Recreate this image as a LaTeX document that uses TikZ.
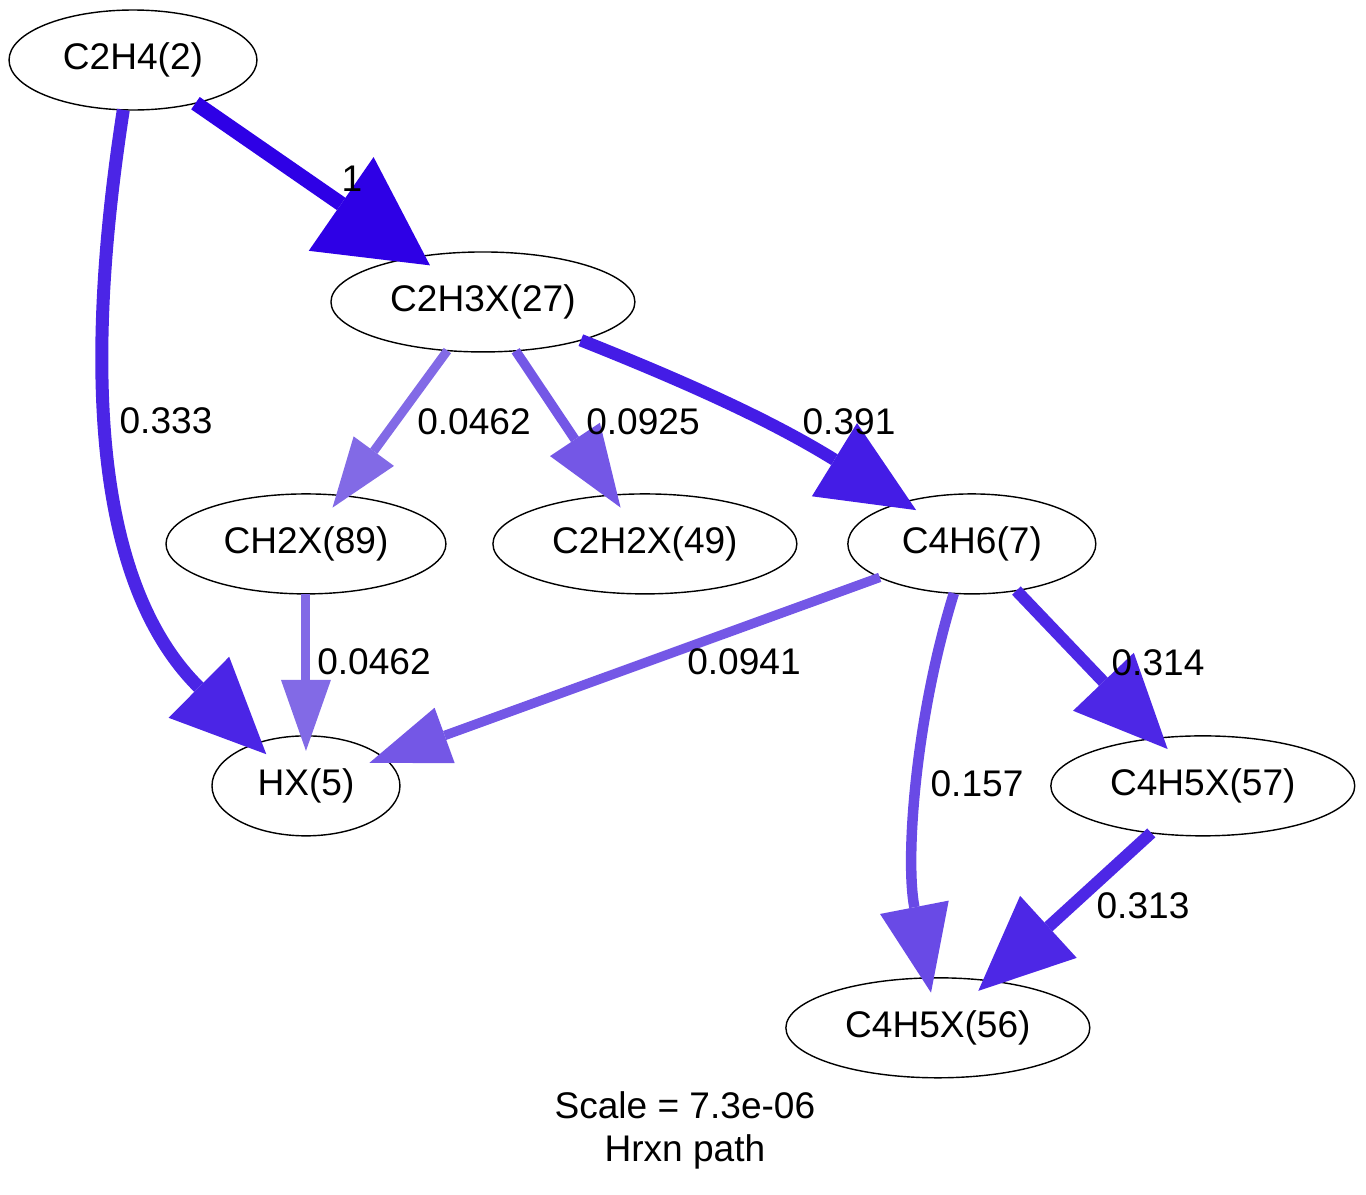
\documentclass[tikz,border=0pt]{standalone}
\usepackage{fontspec}
\setmainfont{Liberation Sans}
\usepackage{tikz}
\usetikzlibrary{shapes.geometric, arrows.meta, positioning}
\usepackage{xcolor}
\definecolor{fluxFull}{RGB}{46,0,230}
\definecolor{fluxDeep}{RGB}{68,28,230}
\definecolor{fluxStrong}{RGB}{75,37,230}
\definecolor{fluxMid}{RGB}{77,39,230}
\definecolor{fluxSoft}{RGB}{105,74,230}
\definecolor{fluxLight}{RGB}{116,87,230}
\definecolor{fluxPale}{RGB}{130,106,230}
\newcommand{\rxnfont}{\fontsize{21.1pt}{24.5pt}\selectfont}

\begin{document}
\begin{tikzpicture}[
    x=0.02cm, y=-0.02cm,
    species/.style={ellipse, draw, line width=0.8pt, inner sep=0pt, outer sep=0pt, minimum height=2cm, font=\rxnfont},
    flux/.style n args={4}{color=#1, line width=#2, shorten >=-0.3cm, -{Triangle[length=#3, width=#4, line width=0pt]}},
    lbl/.style={inner sep=0pt, font=\rxnfont}
]
\useasboundingbox (0,0) rectangle (1366,1194);

\node[species, minimum width=4.96cm] (c2h4) at (133,60) {C2H4(2)};
\node[species, minimum width=6.08cm, below=2.84cm of c2h4, xshift=7cm] (c2h3x) {C2H3X(27)};
\node[species, minimum width=5.6cm, below=2.84cm of c2h3x, xshift=-3.54cm] (ch2x) {CH2X(89)};
\node[species, minimum width=6.08cm, right=0.94cm of ch2x] (c2h2x) {C2H2X(49)};
\node[species, minimum width=4.96cm, right=1.02cm of c2h2x] (c4h6) {C4H6(7)};
\node[species, minimum width=3.76cm, below=2.84cm of ch2x] (hx) {HX(5)};
\node[species, minimum width=6.08cm, below=2.84cm of c4h6, xshift=4.62cm] (c4h5x57) {C4H5X(57)};
\node[species, minimum width=6.08cm, below=2.84cm of c4h5x57, xshift=-5.3cm] (c4h5x56) {C4H5X(56)};
\node[lbl, align=center, below=0.26cm of c4h5x56, xshift=-5.06cm] (caption) {Scale = 7.3e-06\\Hrxn path};

\draw[flux={fluxFull}{0.30cm}{2.16cm}{2.28cm}] (c2h4) -- (c2h3x);
\draw[flux={fluxStrong}{0.26cm}{1.9cm}{1.72cm}] (c2h4.259) .. controls +(-48,310) and +(-145,-144) .. (hx.140);
\draw[flux={fluxPale}{0.18cm}{1.4cm}{1cm}] (c2h3x) -- (ch2x);
\draw[flux={fluxLight}{0.19cm}{1.64cm}{1.2cm}] (c2h3x) -- (c2h2x);
\draw[flux={fluxDeep}{0.25cm}{1.92cm}{1.72cm}] (c2h3x) to[bend left=5] (c4h6);
\draw[flux={fluxPale}{0.18cm}{1.42cm}{1cm}] (ch2x) -- (hx);
\draw[flux={fluxLight}{0.19cm}{1.6cm}{1.18cm}] (c4h6) -- (hx);
\draw[flux={fluxSoft}{0.21cm}{1.74cm}{1.4cm}] (c4h6.250) .. controls +(-39,126) and +(-23,-118) .. (c4h5x56.101);
\draw[flux={fluxMid}{0.24cm}{1.86cm}{1.68cm}] (c4h6) -- (c4h5x57);
\draw[flux={fluxMid}{0.24cm}{1.9cm}{1.68cm}] (c4h5x57) -- (c4h5x56);

\node[lbl] (r1) at (352,179) {1};
\node[lbl] (r2) at (166,421) {0.333};
\node[lbl] (r3) at (474,422) {0.0462};
\node[lbl] (r4) at (643,422) {0.0925};
\node[lbl] (r5) at (849,422) {0.391};
\node[lbl] (r6) at (374,662) {0.0462};
\node[lbl] (r7) at (744,662) {0.0941};
\node[lbl] (r8) at (977,784) {0.157};
\node[lbl] (r9) at (1158,663) {0.314};
\node[lbl] (r10) at (1143,906) {0.313};
\end{tikzpicture}
\end{document}
